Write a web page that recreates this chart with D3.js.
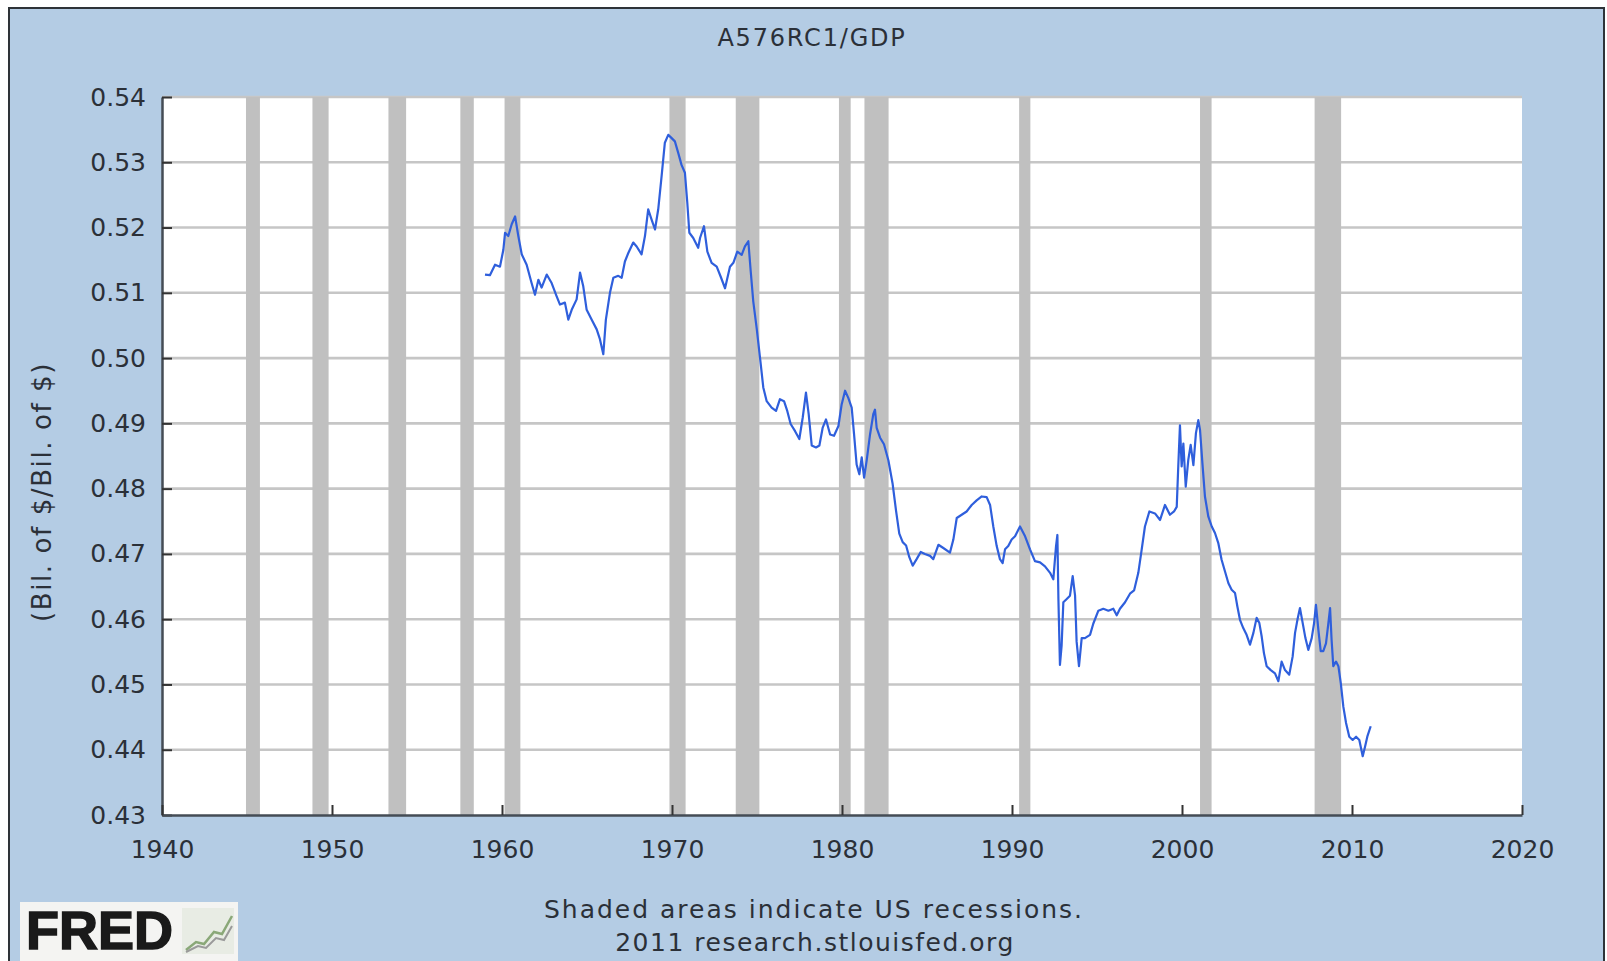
<!DOCTYPE html>
<html>
<head>
<meta charset="utf-8">
<script src="https://cdn.jsdelivr.net/npm/d3@7"></script>
<style>
  html, body { margin: 0; padding: 0; background: #ffffff; }
  svg { display: block; }
</style>
</head>
<body>
<svg id="chart" width="1607" height="961"></svg>
<script>
// ---------------- data ----------------
const title = "A576RC1/GDP";
const yLabel = "(Bil. of $/Bil. of $)";
const footer1 = "Shaded areas indicate US recessions.";
const footer2 = "2011 research.stlouisfed.org";

const xTicks = [1940, 1950, 1960, 1970, 1980, 1990, 2000, 2010, 2020];
const yTicks = [0.43, 0.44, 0.45, 0.46, 0.47, 0.48, 0.49, 0.50, 0.51, 0.52, 0.53, 0.54];

const recessionStart = [1944.94, 1948.85, 1953.32, 1957.55, 1960.15, 1969.85, 1973.75, 1979.82, 1981.32, 1990.42, 2001.06, 2007.80];
const recessionEnd   = [1945.76, 1949.80, 1954.36, 1958.34, 1961.08, 1970.80, 1975.14, 1980.51, 1982.74, 1991.08, 2001.74, 2009.36];

const years = [
  1959.00,1959.29,1959.59,1959.88,1960.08,1960.18,1960.37,1960.57,1960.77,1960.96,
  1961.16,1961.45,1961.74,1961.94,1962.14,1962.33,1962.63,1962.92,1963.21,1963.41,
  1963.70,1963.90,1964.10,1964.39,1964.59,1964.78,1964.98,1965.27,1965.57,1965.76,
  1965.96,1966.11,1966.35,1966.55,1966.84,1967.04,1967.23,1967.43,1967.72,1967.92,
  1968.21,1968.41,1968.60,1968.80,1969.00,1969.19,1969.39,1969.58,1969.78,1969.98,
  1970.17,1970.37,1970.56,1970.76,1970.90,1971.02,1971.25,1971.54,
  1971.65,1971.88,1972.08,1972.33,1972.63,1972.86,1973.12,1973.41,1973.61,1973.84,
  1974.10,1974.29,1974.49,1974.63,1974.78,1974.98,1975.18,1975.37,1975.57,1975.86,
  1976.12,1976.35,1976.59,1976.78,1976.98,1977.24,1977.49,1977.69,1977.88,1978.04,
  1978.22,1978.47,1978.67,1978.86,1979.06,1979.30,1979.53,1979.79,1979.98,1980.18,
  1980.37,1980.57,1980.71,1980.86,1981.02,1981.16,1981.30,1981.45,1981.65,1981.84,
  1981.94,1982.04,1982.24,1982.47,1982.73,1982.98,1983.18,1983.37,1983.57,1983.77,
  1983.96,1984.16,1984.39,1984.63,1984.88,1985.18,
  1985.37,1985.67,1985.96,1986.35,1986.55,1986.75,1987.04,1987.33,1987.63,1987.92,
  1988.22,1988.51,1988.71,1988.90,1989.10,1989.29,1989.45,1989.59,1989.78,1989.98,
  1990.18,1990.47,1990.77,1991.06,1991.35,1991.65,1991.94,1992.24,1992.43,1992.59,
  1992.67,1992.73,1992.82,1992.92,1993.02,1993.22,1993.41,1993.57,1993.71,1993.80,
  1993.94,1994.10,1994.29,1994.59,1994.78,1995.08,1995.37,1995.67,1995.96,1996.16,
  1996.35,1996.65,1996.94,1997.18,1997.43,1997.63,1997.82,1998.08,
  1998.41,1998.71,1999.00,1999.29,1999.53,1999.69,1999.78,1999.88,1999.98,2000.08,
  2000.22,2000.37,2000.51,2000.67,2000.82,2000.96,2001.06,2001.20,2001.35,2001.55,
  2001.75,2001.94,2002.14,2002.33,2002.53,2002.73,2002.92,2003.12,2003.26,2003.41,
  2003.61,2003.80,2004.00,2004.20,2004.39,2004.55,2004.69,2004.82,2004.98,2005.22,
  2005.47,2005.67,2005.86,2006.06,2006.31,2006.51,2006.65,2006.79,2006.94,2007.10,
  2007.26,2007.43,2007.63,2007.77,2007.88,2008.02,2008.16,2008.31,2008.47,2008.61,
  2008.71,2008.80,2008.90,2009.06,2009.20,2009.34,2009.49,2009.65,2009.84,2010.04,
  2010.24,2010.43,2010.63,2010.77,2010.90,2011.10
];
const ratio = [
  0.5128,0.5127,0.5143,0.5140,0.5166,0.5192,0.5187,0.5205,0.5217,0.5187,
  0.5159,0.5143,0.5115,0.5097,0.5120,0.5108,0.5128,0.5115,0.5095,0.5082,
  0.5085,0.5059,0.5074,0.5090,0.5131,0.5110,0.5074,0.5059,0.5044,0.5029,
  0.5006,0.5059,0.5100,0.5123,0.5126,0.5123,0.5148,0.5161,0.5177,0.5171,
  0.5159,0.5187,0.5228,0.5212,0.5197,0.5228,0.5279,0.5330,0.5342,0.5337,
  0.5332,0.5314,0.5296,0.5284,0.5238,0.5192,0.5184,0.5169,
  0.5184,0.5202,0.5163,0.5146,0.5140,0.5125,0.5107,0.5140,0.5146,0.5163,
  0.5158,0.5171,0.5179,0.5133,0.5087,0.5046,0.5000,0.4955,0.4934,0.4924,
  0.4919,0.4937,0.4934,0.4919,0.4899,0.4888,0.4876,0.4909,0.4947,0.4914,
  0.4866,0.4863,0.4866,0.4893,0.4906,0.4883,0.4881,0.4896,0.4929,0.4950,
  0.4939,0.4924,0.4883,0.4837,0.4822,0.4848,0.4817,0.4843,0.4883,0.4914,
  0.4921,0.4893,0.4878,0.4868,0.4843,0.4807,0.4766,0.4731,0.4718,0.4713,
  0.4695,0.4682,0.4692,0.4703,0.4700,0.4697,
  0.4692,0.4714,0.4709,0.4702,0.4722,0.4755,0.4760,0.4765,0.4775,0.4782,
  0.4788,0.4787,0.4775,0.4742,0.4712,0.4692,0.4686,0.4707,0.4712,0.4722,
  0.4727,0.4742,0.4727,0.4707,0.4689,0.4687,0.4681,0.4671,0.4661,0.4712,
  0.4729,0.4631,0.4530,0.4560,0.4626,0.4631,0.4636,0.4666,0.4636,0.4566,
  0.4528,0.4571,0.4571,0.4576,0.4593,0.4613,0.4616,0.4613,0.4616,0.4606,
  0.4616,0.4626,0.4639,0.4644,0.4671,0.4707,0.4742,0.4765,
  0.4762,0.4752,0.4775,0.4760,0.4765,0.4772,0.4834,0.4897,0.4834,0.4869,
  0.4803,0.4844,0.4867,0.4836,0.4885,0.4905,0.4890,0.4839,0.4788,0.4757,
  0.4742,0.4732,0.4716,0.4691,0.4673,0.4655,0.4645,0.4640,0.4619,0.4599,
  0.4586,0.4576,0.4561,0.4579,0.4602,0.4594,0.4573,0.4548,0.4528,0.4522,
  0.4517,0.4505,0.4535,0.4522,0.4515,0.4543,0.4579,0.4599,0.4617,0.4594,
  0.4571,0.4553,0.4571,0.4594,0.4622,0.4584,0.4551,0.4551,0.4563,0.4594,
  0.4617,0.4568,0.4528,0.4535,0.4528,0.4502,0.4466,0.4441,0.4420,0.4415,
  0.4420,0.4415,0.4390,0.4405,0.4420,0.4436
];

// ---------------- layout ----------------
const W = 1607, H = 961;
const plot = { left: 162, right: 1522, top: 97, bottom: 815 };
const font = "'DejaVu Sans', Verdana, sans-serif";
const textColor = "#2b3038";

const svg = d3.select("#chart");

// outer panel
svg.append("rect").attr("x", 0).attr("y", 0).attr("width", W).attr("height", H).attr("fill", "#ffffff");
svg.append("rect")
  .attr("x", 9).attr("y", 8).attr("width", 1595).attr("height", 980)
  .attr("fill", "#b4cce4").attr("stroke", "#2e3338").attr("stroke-width", 2);

const x = d3.scaleLinear().domain([xTicks[0], xTicks[xTicks.length - 1]]).range([plot.left, plot.right]);
const y = d3.scaleLinear().domain([yTicks[0], yTicks[yTicks.length - 1]]).range([plot.bottom, plot.top]);

// plot area
svg.append("rect")
  .attr("x", plot.left).attr("y", plot.top)
  .attr("width", plot.right - plot.left).attr("height", plot.bottom - plot.top)
  .attr("fill", "#ffffff");

// gridlines
svg.append("g").selectAll("line").data(yTicks.slice(1)).join("line")
  .attr("x1", plot.left).attr("x2", plot.right)
  .attr("y1", d => y(d)).attr("y2", d => y(d))
  .attr("stroke", "#c6c6c6").attr("stroke-width", 2.6);

// recession bands
svg.append("g").selectAll("rect").data(recessionStart.map((s, i) => [s, recessionEnd[i]])).join("rect")
  .attr("x", d => x(d[0])).attr("width", d => x(d[1]) - x(d[0]))
  .attr("y", plot.top).attr("height", plot.bottom - plot.top)
  .attr("fill", "#c0c0c0");

// line
const pts = years.map((yr, i) => [yr, ratio[i]]);
svg.append("path")
  .datum(pts)
  .attr("fill", "none")
  .attr("stroke", "#2f5fdc")
  .attr("stroke-width", 2.2)
  .attr("stroke-linejoin", "round")
  .attr("d", d3.line().x(d => x(d[0])).y(d => y(d[1])));

// axes
const yAxis = d3.axisLeft(y).tickValues(yTicks).tickFormat(d3.format(".2f"))
  .tickSizeInner(-10).tickSizeOuter(0).tickPadding(16);
const gy = svg.append("g").attr("transform", `translate(${plot.left},0)`).call(yAxis);

const xAxis = d3.axisBottom(x).tickValues(xTicks).tickFormat(d3.format("d"))
  .tickSizeInner(-10).tickSizeOuter(0).tickPadding(25);
const gx = svg.append("g").attr("transform", `translate(0,${plot.bottom})`).call(xAxis);

[gy, gx].forEach(g => {
  g.select(".domain").attr("stroke", "#454c55").attr("stroke-width", 2.5);
  g.selectAll(".tick line").attr("stroke", "#333").attr("stroke-width", 2);
  g.selectAll(".tick text").attr("fill", textColor)
    .style("font-family", font).style("font-size", "25px");
});

// title
svg.append("text")
  .attr("x", 812).attr("y", 46)
  .attr("text-anchor", "middle")
  .style("font-family", font).style("font-size", "24px")
  .style("letter-spacing", "1.8px")
  .attr("fill", textColor)
  .text(title);

// y label
svg.append("text")
  .attr("transform", "translate(51,492) rotate(-90)")
  .attr("text-anchor", "middle")
  .style("font-family", font).style("font-size", "26px")
  .style("letter-spacing", "1.6px")
  .attr("fill", textColor)
  .text(yLabel);

// footer
svg.append("text")
  .attr("x", 814).attr("y", 918)
  .attr("text-anchor", "middle")
  .style("font-family", font).style("font-size", "25px")
  .style("letter-spacing", "2px")
  .attr("fill", textColor)
  .text(footer1);
svg.append("text")
  .attr("x", 815).attr("y", 951)
  .attr("text-anchor", "middle")
  .style("font-family", font).style("font-size", "25px")
  .style("letter-spacing", "1.5px")
  .attr("fill", textColor)
  .text(footer2);

// FRED logo
const logo = svg.append("g").attr("transform", "translate(20,902)");
logo.append("rect").attr("width", 218).attr("height", 59).attr("fill", "#f4f4f2");
logo.append("text")
  .attr("x", 6).attr("y", 47)
  .style("font-family", "'Liberation Sans', Arial, sans-serif")
  .style("font-size", "54px").style("font-weight", "bold")
  .attr("fill", "#1a1a1a").attr("stroke", "#1a1a1a").attr("stroke-width", 1.5)
  .text("FRED");
const icon = logo.append("g").attr("transform", "translate(162,6)");
icon.append("rect").attr("width", 52).attr("height", 46).attr("fill", "#e8ece4");
icon.append("path").attr("d", "M4,42 L14,34 L22,36 L32,24 L40,26 L50,8")
  .attr("fill", "none").attr("stroke", "#8aa878").attr("stroke-width", 2.5);
icon.append("path").attr("d", "M4,44 L16,38 L24,40 L34,30 L42,32 L50,18")
  .attr("fill", "none").attr("stroke", "#9a9a9a").attr("stroke-width", 2);
</script>
</body>
</html>
